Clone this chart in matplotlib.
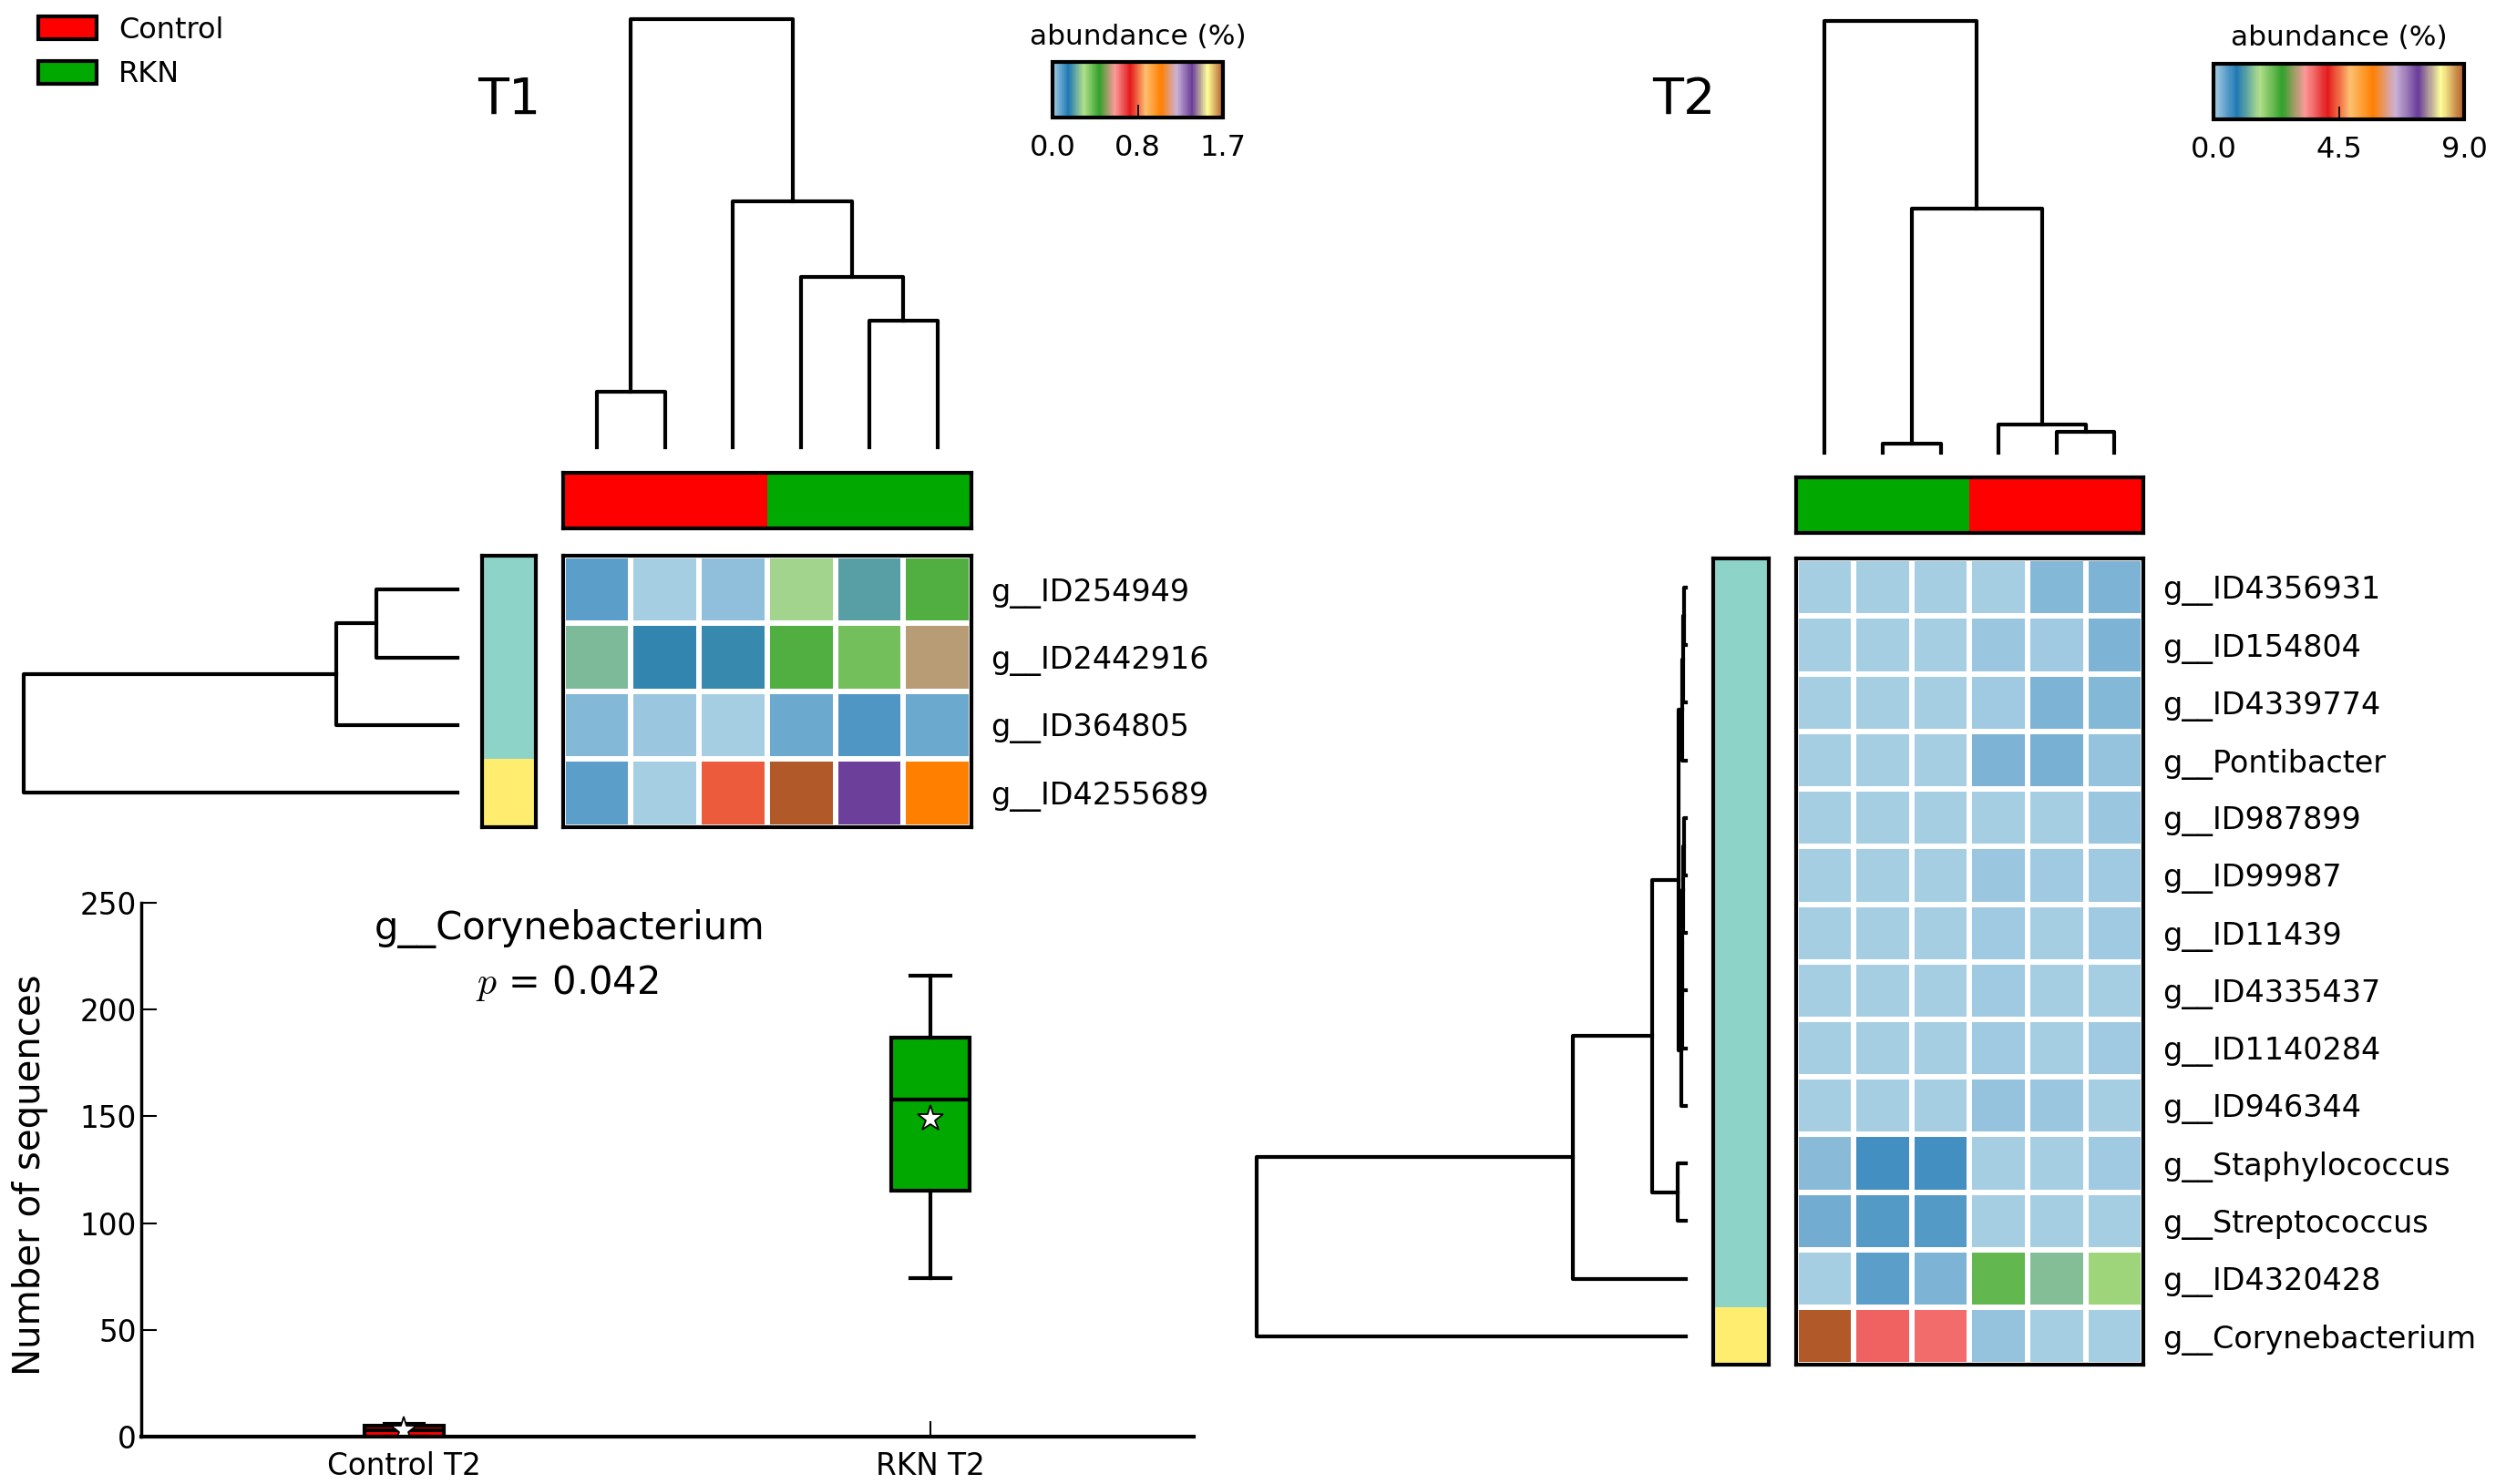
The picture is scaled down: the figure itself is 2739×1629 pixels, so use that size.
import numpy as np
import matplotlib
matplotlib.use('Agg')
import matplotlib.pyplot as plt
from matplotlib.colors import LinearSegmentedColormap, ListedColormap
from matplotlib.patches import Patch

plt.rcParams['font.family'] = ['DejaVu Sans']
plt.rcParams['mathtext.fontset'] = 'cm'

# ---------------- data ----------------
group_names = ['Control', 'RKN']
group_colors = ['#ff0000', '#00a800']
cluster_colors = ['#8dd3c7', '#ffed6f']

# T1 heatmap (abundance %)
t1_genera = ['g__ID254949', 'g__ID2442916', 'g__ID364805', 'g__ID4255689']
t1_groups = [0, 0, 0, 1, 1, 1]
t1_row_clusters = [0, 0, 0, 1]
t1_abund = np.array([
    [0.090, 0.000, 0.032, 0.294, 0.216, 0.425],
    [0.255, 0.173, 0.185, 0.425, 0.386, 0.571],
    [0.043, 0.019, 0.000, 0.068, 0.105, 0.071],
    [0.090, 0.000, 0.835, 1.700, 1.390, 1.080],
])
t1_vmax = 1.7
t1_cbar_labels = ['0.0', '0.8', '1.7']
# linkage: (left, right, height)
t1_col_links = [(0, 1, 35.5), (4, 5, 80.5), (3, 7, 108), (2, 8, 156), (6, 9, 271)]
t1_row_links = [(0, 1, 51), (4, 2, 76), (5, 3, 272)]

# T2 heatmap (abundance %)
t2_genera = ['g__ID4356931', 'g__ID154804', 'g__ID4339774', 'g__Pontibacter',
             'g__ID987899', 'g__ID99987', 'g__ID11439', 'g__ID4335437',
             'g__ID1140284', 'g__ID946344', 'g__Staphylococcus',
             'g__Streptococcus', 'g__ID4320428', 'g__Corynebacterium']
t2_groups = [1, 1, 1, 0, 0, 0]
t2_row_clusters = [0] * 13 + [1]
t2_abund = np.array([
    [0.02, 0.02, 0.02, 0.03, 0.22, 0.25],
    [0.02, 0.02, 0.02, 0.08, 0.06, 0.27],
    [0.02, 0.02, 0.02, 0.04, 0.26, 0.24],
    [0.02, 0.02, 0.02, 0.26, 0.29, 0.12],
    [0.02, 0.02, 0.02, 0.02, 0.03, 0.09],
    [0.02, 0.02, 0.02, 0.08, 0.06, 0.06],
    [0.02, 0.02, 0.02, 0.05, 0.02, 0.04],
    [0.02, 0.02, 0.02, 0.04, 0.02, 0.00],
    [0.02, 0.02, 0.02, 0.04, 0.01, 0.04],
    [0.02, 0.02, 0.02, 0.11, 0.09, 0.00],
    [0.18, 0.62, 0.61, 0.02, 0.02, 0.04],
    [0.34, 0.50, 0.50, 0.02, 0.02, 0.02],
    [0.00, 0.47, 0.27, 2.15, 1.38, 1.76],
    [9.00, 3.63, 3.57, 0.11, 0.02, 0.02],
])
t2_vmax = 9.0
t2_cbar_labels = ['0.0', '4.5', '9.0']
t2_col_links = [(1, 2, 5.3), (4, 5, 12.7), (3, 7, 17.7), (6, 8, 153), (0, 9, 270.7)]
t2_row_links = [(0, 1, 1.0), (14, 2, 1.5), (15, 3, 2.5), (4, 5, 1.0), (17, 6, 1.5),
                (18, 7, 2.0), (19, 8, 2.5), (20, 9, 3.0), (16, 21, 4.5), (10, 11, 5.3),
                (22, 23, 21), (24, 12, 71), (25, 13, 269)]

# boxplot of g__Corynebacterium
box_labels = ['Control T2', 'RKN T2']
box_colors = ['#ff0000', '#00a800']
box_whislo = [0, 74]
box_q1 = [0, 115]
box_med = [3, 158]
box_q3 = [5, 187]
box_whishi = [6, 216]
box_mean = [3, 149]
box_taxon = 'g__Corynebacterium'
box_p = 0.042

# ---------------- layout helpers ----------------
W, H = 1565.0, 935.0


def rect(x0, y0, x1, y1):
    return [x0 / W, 1 - y1 / H, (x1 - x0) / W, (y1 - y0) / H]


cmap = LinearSegmentedColormap.from_list('paired_smooth', plt.cm.Paired.colors, N=256)
LW = 3


def dendro(ax, links, n, side):
    pos = {i: i + 0.5 for i in range(n)}
    hgt = {i: 0.0 for i in range(n)}
    for k, (a, b, h) in enumerate(links):
        xs = [pos[a], pos[a], pos[b], pos[b]]
        ys = [hgt[a], h, h, hgt[b]]
        if side == 'top':
            ax.plot(xs, ys, color='k', lw=LW, clip_on=False)
        else:
            ax.plot(ys, xs, color='k', lw=LW, clip_on=False)
        pos[n + k] = (pos[a] + pos[b]) / 2.0
        hgt[n + k] = h
    top = links[-1][2]
    if side == 'top':
        ax.set_xlim(0, n)
        ax.set_ylim(0, top)
    else:
        ax.set_ylim(n, 0)
        ax.set_xlim(top, 0)
    ax.axis('off')


def frame(ax, lw=3):
    ax.set_xticks([])
    ax.set_yticks([])
    for s in ax.spines.values():
        s.set_linewidth(lw)
        s.set_color('k')


def panel(title, title_xy, abund, genera, groups, row_clusters, col_links, row_links,
          vmax, cbar_labels, r_heat, r_colbar, r_rowbar, r_cden, r_rden, r_cbar):
    nrow, ncol = abund.shape
    # heatmap
    ax = fig.add_axes(rect(*r_heat))
    mesh = ax.pcolormesh(abund, cmap=cmap, vmin=0, vmax=vmax,
                         edgecolors='white', linewidth=4.3)
    ax.set_xlim(0, ncol)
    ax.set_ylim(nrow, 0)
    frame(ax)
    ax.yaxis.tick_right()
    ax.set_yticks(np.arange(nrow) + 0.5)
    ax.set_yticklabels(genera, fontsize=24)
    ax.tick_params(axis='y', length=0, pad=15)

    # group colour bar above
    axc = fig.add_axes(rect(*r_colbar))
    axc.pcolormesh(np.array([groups]), cmap=ListedColormap(group_colors), vmin=0, vmax=1)
    frame(axc)

    # row cluster bar
    axr = fig.add_axes(rect(*r_rowbar))
    axr.pcolormesh(np.array(row_clusters)[:, None], cmap=ListedColormap(cluster_colors),
                   vmin=0, vmax=1)
    axr.set_ylim(nrow, 0)
    frame(axr)

    # dendrograms
    dendro(fig.add_axes(rect(*r_cden)), col_links, ncol, 'top')
    dendro(fig.add_axes(rect(*r_rden)), row_links, nrow, 'left')

    # colour scale
    cax = fig.add_axes(rect(*r_cbar))
    cb = fig.colorbar(mesh, cax=cax, orientation='horizontal', ticks=[0, vmax / 2, vmax])
    cb.set_ticklabels(cbar_labels)
    cb.outline.set_linewidth(3)
    cax.tick_params(direction='in', length=10, width=1.2, labelsize=23, pad=13)
    cax.set_title('abundance (%)', fontsize=22.5, pad=14)

    fig.text(title_xy[0] / W, 1 - title_xy[1] / H, title, fontsize=40,
             ha='center', va='center')


fig = plt.figure(figsize=(27.39, 16.29), dpi=100)

panel('T1', (319, 63), t1_abund, t1_genera, t1_groups, t1_row_clusters,
      t1_col_links, t1_row_links, t1_vmax, t1_cbar_labels,
      (353, 350, 609, 521), (353, 298, 609, 333), (302, 350, 336, 521),
      (353, 12, 609, 282), (15, 350, 287, 521), (660, 39, 767, 74))

panel('T2', (1056, 63), t2_abund, t2_genera, t2_groups, t2_row_clusters,
      t2_col_links, t2_row_links, t2_vmax, t2_cbar_labels,
      (1126, 352, 1344, 860), (1126, 301, 1344, 336), (1074, 352, 1109, 860),
      (1126, 13, 1344, 285), (788, 352, 1057, 860), (1388, 40, 1545, 75))

# legend
handles = [Patch(facecolor=c, edgecolor='k', linewidth=3, label=n)
           for n, c in zip(group_names, group_colors)]
fig.legend(handles=handles, loc='upper left', bbox_to_anchor=(0.013, 0.993),
           frameon=False, fontsize=23, handlelength=2.0, handleheight=0.85,
           handletextpad=0.75, labelspacing=0.55, borderpad=0.2, borderaxespad=0)

# boxplot
ax = fig.add_axes(rect(88.3, 569, 748.5, 905))
stats = []
for i in range(len(box_labels)):
    stats.append(dict(label=box_labels[i], whislo=box_whislo[i], q1=box_q1[i],
                      med=box_med[i], q3=box_q3[i], whishi=box_whishi[i],
                      mean=box_mean[i]))
bp = ax.bxp(stats, positions=[1, 2], widths=0.15, patch_artist=True, showmeans=True,
            showfliers=False,
            boxprops=dict(linewidth=3, edgecolor='k'),
            whiskerprops=dict(linewidth=3, color='k', linestyle='-'),
            capprops=dict(linewidth=3, color='k'),
            medianprops=dict(linewidth=3, color='k'),
            meanprops=dict(marker='*', markerfacecolor='white', markeredgecolor='k',
                           markersize=21, markeredgewidth=1.3))
for patch, c in zip(bp['boxes'], box_colors):
    patch.set_facecolor(c)

ax.set_xlim(0.5, 2.5)
ax.set_ylim(0, 250)
ax.set_yticks(np.arange(0, 251, 50))
ax.spines['top'].set_visible(False)
ax.spines['right'].set_visible(False)
ax.spines['left'].set_linewidth(2.5)
ax.spines['bottom'].set_linewidth(3)
ax.tick_params(direction='in', length=12, width=1.5, labelsize=23.5, top=False, right=False)
ax.tick_params(axis='x', pad=12)
ax.set_ylabel('Number of sequences', fontsize=29)
ax.yaxis.set_label_coords(-0.088, 0.49)
ax.text(0.407, 0.952, box_taxon, transform=ax.transAxes, ha='center', va='center',
        fontsize=30)
ax.text(0.405, 0.851, r'$p$ = %.3f' % box_p, transform=ax.transAxes, ha='center',
        va='center', fontsize=30)

fig.savefig('out.png', dpi=100)
